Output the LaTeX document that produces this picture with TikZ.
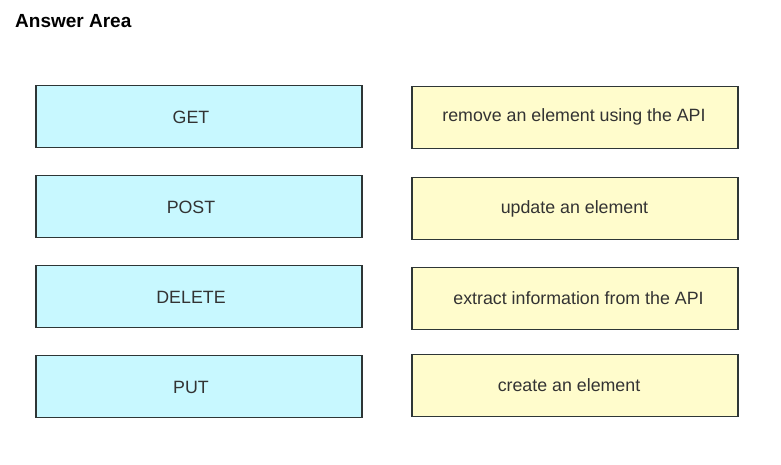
\documentclass[tikz,border=0pt]{standalone}
\usepackage{fontspec}
\setmainfont{Liberation Sans}
\definecolor{boxcyan}{HTML}{C8F8FF}
\definecolor{boxyellow}{HTML}{FFFCCC}
\definecolor{boxline}{HTML}{2E3636}
\definecolor{txtgray}{HTML}{333333}
\begin{document}
\begin{tikzpicture}[x=1pt,y=1pt,
  methodbox/.style={draw=boxline,line width=1.5pt,fill=boxcyan,minimum width=326pt,minimum height=62pt,inner sep=0pt,anchor=north west},
  descbox/.style={draw=boxline,line width=1.5pt,fill=boxyellow,minimum width=326pt,minimum height=62pt,inner sep=0pt,anchor=north west},
  boxtext/.style={font=\fontsize{17.8}{20}\selectfont,text=txtgray,inner sep=0pt}]
\useasboundingbox (0,0) rectangle (781,465);
\fill[white] (0,0) rectangle (781,465);
\node[font=\bfseries\fontsize{19}{22}\selectfont,anchor=base west,inner sep=0pt] (title) at (15,437) {Answer Area};
% left column
\node[methodbox] (get) at (35,380) {};
\node[methodbox] (post) at (35,290) {};
\node[methodbox] (delete) at (35,200) {};
\node[methodbox] (put) at (35,110) {};
\node[boxtext] (tget) at (191,348) {GET};
\node[boxtext] (tpost) at (191,258) {POST};
\node[boxtext] (tdelete) at (191,168) {DELETE};
\node[boxtext] (tput) at (191,78) {PUT};
% right column
\node[descbox] (remove) at (411,379) {};
\node[descbox] (update) at (411,288) {};
\node[descbox] (extract) at (411,198) {};
\node[descbox] (create) at (411,111) {};
\node[boxtext] (tremove) at (574,348) {remove an element using the API};
\node[boxtext] (tupdate) at (574.5,256) {update an element};
\node[boxtext] (textract) at (578.5,167) {extract information from the API};
\node[boxtext] (tcreate) at (569,80) {create an element};
\end{tikzpicture}
\end{document}
